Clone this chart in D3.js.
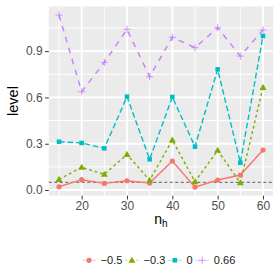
<!DOCTYPE html>
<html><head><meta charset="utf-8">
<script src="https://cdn.jsdelivr.net/npm/d3@7"></script>
<style>html,body{margin:0;padding:0;background:#fff;}svg{display:block;font-family:"Liberation Sans",Arial,sans-serif;}</style>
</head><body>
<script>
const nh = [15, 20, 25, 30, 35, 40, 45, 50, 55, 60];
const seriesNames = ["\u22120.5", "\u22120.3", "0", "0.66"];
const levelM05 = [0.021, 0.067, 0.043, 0.060, 0.045, 0.188, 0.019, 0.065, 0.097, 0.259];
const levelM03 = [0.069, 0.147, 0.102, 0.231, 0.063, 0.324, 0.054, 0.257, 0.047, 0.665];
const level0   = [0.313, 0.305, 0.270, 0.605, 0.199, 0.603, 0.281, 0.782, 0.177, 0.998];
const level066 = [1.134, 0.637, 0.827, 1.041, 0.734, 0.990, 0.922, 1.052, 0.868, 1.037];
const xTicks = [20, 30, 40, 50, 60];
const yTicks = [0.0, 0.3, 0.6, 0.9];
const refLevel = 0.05;

const allSeries = [levelM05, levelM03, level0, level066];
const colors = ["#F8766D", "#7CAE00", "#00BFC4", "#C77CFF"];
const dashes = [null, "2.8,2.8", "5.7,2.8", "5.7,5.7"];
const shapes = ["circle", "triangle", "square", "plus"];

const W = 280, H = 280;
const pl = 48.8, pr = 273.2, pt = 6.4, pb = 195.7;

const svg = d3.select("body").append("svg").attr("width", W).attr("height", H);

const xExt = d3.extent(nh);
const xPad = (xExt[1] - xExt[0]) * 0.05;
const x = d3.scaleLinear().domain([xExt[0] - xPad, xExt[1] + xPad]).range([pl, pr]);
const allVals = allSeries.flat();
const yExt = d3.extent(allVals);
const yPad = (yExt[1] - yExt[0]) * 0.05;
const y = d3.scaleLinear().domain([yExt[0] - yPad, yExt[1] + yPad]).range([pb, pt]);

// panel
svg.append("rect").attr("x", pl).attr("y", pt).attr("width", pr - pl).attr("height", pb - pt).attr("fill", "#EBEBEB");

// grid
const xMinor = [15, 25, 35, 45, 55];
const yMinor = [0.15, 0.45, 0.75, 1.05];
const g = svg.append("g");
xMinor.forEach(v => g.append("line").attr("x1", x(v)).attr("x2", x(v)).attr("y1", pt).attr("y2", pb).attr("stroke", "#fff").attr("stroke-width", 0.95));
yMinor.forEach(v => g.append("line").attr("y1", y(v)).attr("y2", y(v)).attr("x1", pl).attr("x2", pr).attr("stroke", "#fff").attr("stroke-width", 0.95));
xTicks.forEach(v => g.append("line").attr("x1", x(v)).attr("x2", x(v)).attr("y1", pt).attr("y2", pb).attr("stroke", "#fff").attr("stroke-width", 1.9));
yTicks.forEach(v => g.append("line").attr("y1", y(v)).attr("y2", y(v)).attr("x1", pl).attr("x2", pr).attr("stroke", "#fff").attr("stroke-width", 1.9));

// axes
const xAxis = d3.axisBottom(x).tickValues(xTicks).tickSize(3.7).tickPadding(2.5).tickFormat(d3.format("d"));
const yAxis = d3.axisLeft(y).tickValues(yTicks).tickSize(3.7).tickPadding(2.5).tickFormat(d3.format(".1f"));
const gx = svg.append("g").attr("transform", `translate(0,${pb})`).call(xAxis);
const gy = svg.append("g").attr("transform", `translate(${pl},0)`).call(yAxis);
[gx, gy].forEach(a => {
  a.select(".domain").remove();
  a.selectAll(".tick line").attr("stroke", "#333333").attr("stroke-width", 1.0);
  a.selectAll(".tick text").attr("fill", "#4D4D4D").attr("font-size", 12).attr("font-family", "Liberation Sans, Arial, sans-serif");
});

// reference line
svg.append("line").attr("x1", pl).attr("x2", pr).attr("y1", y(refLevel)).attr("y2", y(refLevel))
  .attr("stroke", "#4D4D4D").attr("stroke-width", 0.9).attr("stroke-dasharray", "3,2.5");

function drawShape(sel, shape, color, cx, cy) {
  if (shape === "plus") {
    const a = 3.6;
    sel.append("path").attr("d", `M${cx - a},${cy}H${cx + a}M${cx},${cy - a}V${cy + a}`)
      .attr("stroke", color).attr("stroke-width", 0.8).attr("fill", "none");
  } else {
    const type = shape === "circle" ? d3.symbolCircle : shape === "triangle" ? d3.symbolTriangle : d3.symbolSquare;
    const size = shape === "circle" ? 21 : shape === "triangle" ? 21 : 21;
    sel.append("path").attr("d", d3.symbol().type(type).size(size)())
      .attr("transform", `translate(${cx},${cy + (shape === "triangle" ? 0.5 : 0)})`).attr("fill", color);
  }
}

const line = d3.line().x(d => x(d[0])).y(d => y(d[1]));
allSeries.forEach((vals, i) => {
  const pts = nh.map((n, j) => [n, vals[j]]);
  const p = svg.append("path").datum(pts).attr("d", line).attr("fill", "none")
    .attr("stroke", colors[i]).attr("stroke-width", 1.4);
  if (dashes[i]) p.attr("stroke-dasharray", dashes[i]);
});
allSeries.forEach((vals, i) => {
  const gp = svg.append("g");
  nh.forEach((n, j) => drawShape(gp, shapes[i], colors[i], x(n), y(vals[j])));
});

// axis titles
svg.append("text").attr("transform", `translate(18.3,${(pt + pb) / 2}) rotate(-90)`).attr("text-anchor", "middle")
  .attr("font-size", 14.5).attr("fill", "#000").text("level");
const xt = svg.append("text").attr("x", (pl + pr) / 2).attr("y", 224).attr("text-anchor", "middle").attr("font-size", 14).attr("fill", "#000");
xt.append("tspan").text("n");
xt.append("tspan").attr("font-size", 10).attr("dy", 3).text("h");

// legend
let cx = 89;
const ly = 260.3;
seriesNames.forEach((name, i) => {
  const lg = svg.append("g");
  const seg = lg.append("line").attr("x1", cx - 7).attr("x2", cx + 7).attr("y1", ly).attr("y2", ly)
    .attr("stroke", colors[i]).attr("stroke-width", 1.2).attr("opacity", 0.3);
  if (dashes[i]) seg.attr("stroke-dasharray", dashes[i]);
  drawShape(lg, shapes[i], colors[i], cx, ly);
  const t = lg.append("text").attr("x", cx + 11.7).attr("y", ly + 4).attr("font-size", 11).attr("fill", "#1a1a1a").text(name);
  const w = t.node().getComputedTextLength();
  cx = cx + 11.7 + w + 9.5;
});
</script>
</body></html>
